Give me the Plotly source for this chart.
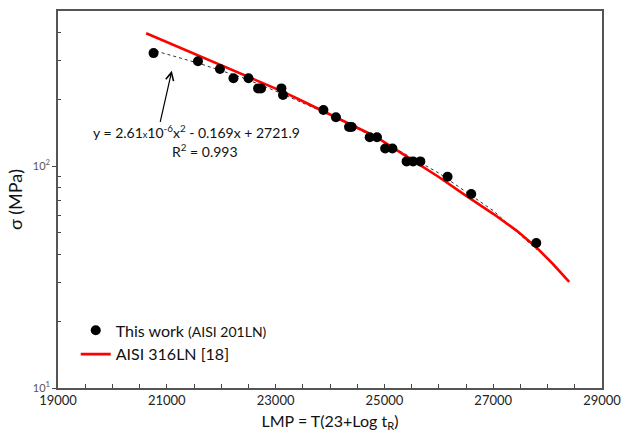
import numpy as np
import plotly.graph_objects as go

# --- data ---
work_lmp = [20757, 21573, 21977, 22225, 22502, 22678, 22732, 23107, 23136,
            23879, 24109, 24350, 24399, 24730, 24864, 25014, 25147,
            25408, 25527, 25661, 26161, 26596, 27792]
work_sigma = [323, 297, 274, 249, 249, 224, 224, 224, 209,
              179, 166, 150, 150, 135, 135, 120, 120,
              105, 105, 105, 89.6, 74.8, 45]

ref_lmp = [20620, 21500, 22500, 23143, 23500, 24500, 24833, 25500, 26000,
           26464, 27007, 27429, 27792, 28094, 28397]
ref_sigma = [397, 322, 253, 216, 196, 149, 136, 107, 89.3,
             74.6, 60.8, 51.2, 43.1, 36.3, 30.1]

fit_lmp = [20800, 21600, 22400, 23000, 24000, 25000, 26000, 27000, 27800]
fit_sigma = [330, 290, 250, 218, 170, 128, 93, 63, 42]

x_tickvals = list(range(19000, 29001, 500))
x_ticktext = [str(v) if (v - 19000) % 2000 == 0 else "" for v in x_tickvals]
y_tickvals = [10, 100]
y_ticktext = ["10<sup>1</sup>", "10<sup>2</sup>"]
y_minor = [20, 30, 40, 50, 60, 70, 80, 90, 200, 300, 400]

FONT = "Lato"
PL, PR, PT, PB = 58, 610, 9, 388


def px_to_paper(px, py):
    return (px - PL) / (PR - PL), 1 - (py - PT) / (PB - PT)


fig = go.Figure()
fig.add_trace(go.Scatter(x=fit_lmp, y=fit_sigma, mode="lines",
                         line=dict(color="#333333", width=1, dash="3px,3px"),
                         showlegend=False, hoverinfo="skip"))
fig.add_trace(go.Scatter(x=ref_lmp, y=ref_sigma, mode="lines",
                         line=dict(color="#ff0000", width=2.6),
                         name="AISI 316LN [18]"))
fig.add_trace(go.Scatter(x=work_lmp, y=work_sigma, mode="markers",
                         marker=dict(color="black", size=10),
                         name="This work <span style='font-size:14px'>(AISI 201LN)</span>"))

lx, ly = px_to_paper(76, 313)
fig.update_layout(
    width=630, height=440,
    margin=dict(l=PL, r=630 - PR, t=PT, b=440 - PB),
    paper_bgcolor="white", plot_bgcolor="white",
    font=dict(family=FONT, color="#222222"),
    showlegend=True,
    legend=dict(x=lx, y=ly, xanchor="left", yanchor="top",
                traceorder="reversed", bgcolor="rgba(0,0,0,0)",
                font=dict(size=16, family=FONT, color="#111111"),
                itemwidth=30),
    xaxis=dict(range=[19000, 29000], tickmode="array", tickvals=x_tickvals,
               ticktext=x_ticktext, ticks="inside", ticklen=4, tickcolor="#444",
               showline=True, mirror=True, linecolor="#555555", linewidth=1.5,
               showgrid=False, zeroline=False,
               tickfont=dict(size=13, color="#222222"),
               title=dict(text="LMP = T(23+Log t<sub>R</sub>)",
                          font=dict(size=16, color="#111111"), standoff=8)),
    yaxis=dict(type="log", range=[1, np.log10(500)], tickmode="array",
               tickvals=y_tickvals, ticktext=y_ticktext, ticks="outside",
               ticklen=4, tickcolor="#444",
               minor=dict(tickmode="array", tickvals=y_minor, ticks="inside",
                          ticklen=3, tickcolor="#444"),
               showline=True, mirror=True, linecolor="#555555", linewidth=1.5,
               showgrid=False, zeroline=False,
               tickfont=dict(size=11, color="#555555"),
               title=dict(text="σ (MPa)", font=dict(size=18, color="#111111"),
                          standoff=6)),
)

fig.add_annotation(x=21092, y=np.log10(269), ax=20873, ay=np.log10(155.6),
                   xref="x", yref="y", axref="x", ayref="y",
                   showarrow=True, arrowhead=5, arrowsize=1.3, arrowwidth=1.2,
                   arrowcolor="black", text="")
t1x, t1y = px_to_paper(199, 130.5)
fig.add_annotation(x=t1x, y=t1y, xref="paper", yref="paper", showarrow=False,
                   xanchor="center", yanchor="middle",
                   text="y = 2.61<span style='font-size:9px'>x</span>10<sup>-6</sup>x<sup>2</sup> - 0.169x + 2721.9",
                   font=dict(size=14, color="#111111", family=FONT))
t2x, t2y = px_to_paper(207, 149.3)
fig.add_annotation(x=t2x, y=t2y, xref="paper", yref="paper", showarrow=False,
                   xanchor="center", yanchor="middle",
                   text="R<sup>2</sup> = 0.993",
                   font=dict(size=14, color="#111111", family=FONT))

fig.write_html("out.html")
